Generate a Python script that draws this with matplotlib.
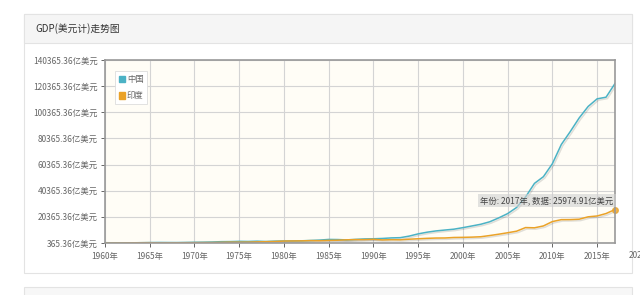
import numpy as np
import matplotlib.pyplot as plt
import matplotlib.patches as mpatches
import matplotlib.patheffects as pe

plt.rcParams['font.family'] = ['Noto Sans CJK SC', 'DejaVu Sans']

# data, 亿美元
years = list(range(1960, 2018))
china = [597.2, 500.6, 472.1, 507.1, 597.1, 704.4, 767.2, 728.8, 708.5, 797.1,
         926.0, 998.0, 1136.9, 1385.4, 1441.8, 1634.3, 1539.4, 1749.4, 1495.4, 1782.8,
         1911.5, 1958.7, 2050.9, 2306.9, 2599.5, 3094.9, 3007.6, 2729.7, 3123.5, 3477.7,
         3608.6, 3833.7, 4269.2, 4447.3, 5643.3, 7345.5, 8637.5, 9616.0, 10290.4, 10940.0,
         12113.5, 13394.0, 14705.5, 16602.9, 19553.5, 22859.7, 27521.3, 35521.8, 45982.1, 51099.5,
         61006.2, 75725.5, 85605.5, 96072.2, 104823.7, 110646.7, 111909.9, 122377.0]
india = [370.3, 392.3, 421.6, 484.2, 564.8, 595.5, 458.7, 501.3, 530.9, 584.5,
         624.2, 673.5, 714.6, 855.2, 995.3, 984.7, 1027.2, 1214.9, 1373.0, 1529.9,
         1863.3, 1934.9, 2007.2, 2182.6, 2121.6, 2325.1, 2489.9, 2790.3, 2965.9, 2960.4,
         3209.8, 2701.1, 2882.1, 2793.0, 3272.8, 3602.8, 3929.0, 4158.7, 4213.5, 4588.2,
         4683.9, 4854.4, 5149.4, 6077.0, 7091.5, 8203.8, 9402.6, 12167.4, 11989.0, 13418.9,
         16756.2, 18230.5, 18276.4, 18567.2, 20391.3, 21035.9, 22904.3, 25974.91]
series_names = ['中国', '印度']
colors = ['#4bb2c5', '#eaa228']
yticks = [365.36 + 20000 * k for k in range(8)]
xticks = list(range(1960, 2020, 5))

fig = plt.figure(figsize=(6.4, 2.95), dpi=100)
fig.patch.set_facecolor('white')

# card + header
W, H = 640, 295
card = mpatches.Rectangle((24 / W, 1 - 273 / H), (632 - 24) / W, (273 - 14) / H,
                          transform=fig.transFigure, facecolor='white', edgecolor='#e3e3e3',
                          lw=0.8, zorder=-3)
head = mpatches.Rectangle((24 / W, 1 - 43 / H), (632 - 24) / W, (43 - 14) / H,
                          transform=fig.transFigure, facecolor='#f5f5f5', edgecolor='#e3e3e3',
                          lw=0.8, zorder=-2)
card2 = mpatches.Rectangle((24 / W, 1 - 300 / H), (632 - 24) / W, (300 - 287) / H,
                           transform=fig.transFigure, facecolor='#f7f7f7', edgecolor='#e3e3e3',
                           lw=0.8, zorder=-2)
fig.patches.extend([card, head, card2])
fig.text(35 / W, 1 - 29 / H, 'GDP(美元计)走势图', fontsize=7, color='#333333', va='center')

ax = fig.add_axes([105 / W, 1 - 243 / H, (615 - 105) / W, (243 - 60) / H])
ax.set_facecolor('#fffdf6')

shadow = [pe.SimpleLineShadow(offset=(1, -1), alpha=0.12), pe.Normal()]
ax.plot(years, china, color=colors[0], lw=1.1, path_effects=shadow)
ax.plot(years, india, color=colors[1], lw=1.1, path_effects=shadow)
ax.plot(years[-1], india[-1], 'o', color=colors[1], ms=4, alpha=0.8, clip_on=False)

ax.set_xlim(1960, 2017)
ax.set_ylim(yticks[0], yticks[-1])
ax.set_xticks(xticks)
ax.set_xticklabels([f'{y}年' for y in xticks])
ax.set_yticks(yticks)
ax.set_yticklabels([f'{v:.2f}亿美元' for v in yticks])
ax.text(2020, -0.045, '2020年', transform=ax.get_xaxis_transform(), ha='center', va='top',
        fontsize=6, color='#666666', clip_on=False)
ax.grid(True, color='#d4d4d4', lw=0.8)
ax.set_axisbelow(True)
ax.tick_params(axis='both', labelsize=6, colors='#666666', length=3, width=0.7, pad=2)
ax.tick_params(axis='x', pad=3.5)
for s in ax.spines.values():
    s.set_color('#999999')
    s.set_linewidth(1.2)

handles = [mpatches.Patch(color=c, label=n) for c, n in zip(colors, series_names)]
leg = ax.legend(handles=handles, loc='upper left', bbox_to_anchor=(0.012, 0.96), fontsize=6,
                handlelength=0.8, handleheight=0.8, handletextpad=0.2, labelspacing=0.9,
                borderpad=0.4, fancybox=False, framealpha=1, labelcolor='#666666')
leg.get_frame().set_edgecolor('#dddddd')
leg.get_frame().set_linewidth(0.6)

ax.text(0.997, 0.232, '年份: 2017年, 数据: 25974.91亿美元', transform=ax.transAxes,
        ha='right', va='center', fontsize=6, color='#444444',
        bbox=dict(boxstyle='square,pad=0.25', facecolor='#d0d0d0', alpha=0.6, edgecolor='none'))

fig.savefig('out.png', dpi=100)
